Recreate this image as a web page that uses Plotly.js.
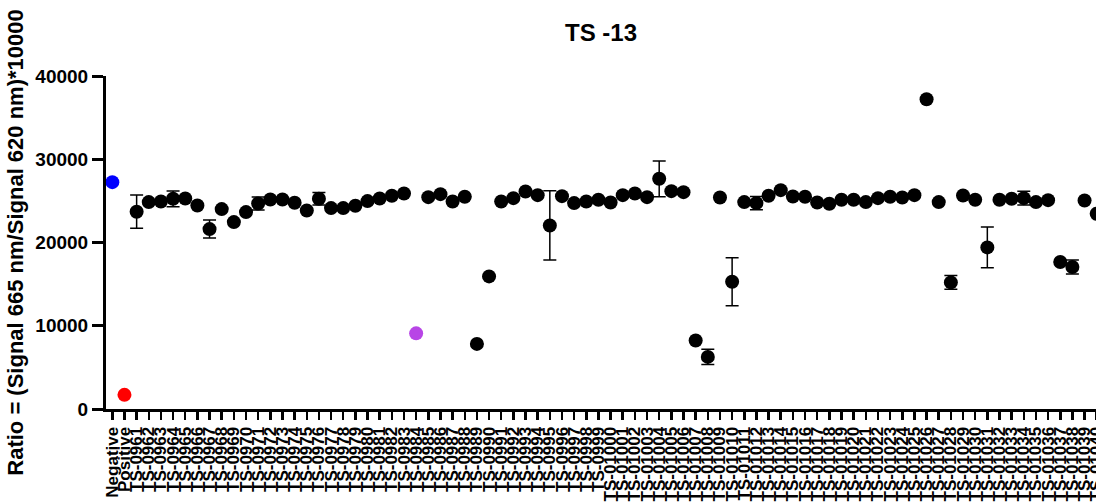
<!DOCTYPE html>
<html>
<head>
<meta charset="utf-8">
<script src="https://cdn.plot.ly/plotly-3.0.1.min.js"></script>
<style>
html,body{margin:0;padding:0;background:#fff;overflow:hidden;width:1096px;height:504px;}
#chart{width:1104px;height:504px;}
</style>
</head>
<body>
<div id="chart"></div>
<script>
// Category order (x axis)
const categories = ["Negative","Positive",
"TS-0961","TS-0962","TS-0963","TS-0964","TS-0965","TS-0966","TS-0967","TS-0968","TS-0969","TS-0970",
"TS-0971","TS-0972","TS-0973","TS-0974","TS-0975","TS-0976","TS-0977","TS-0978","TS-0979","TS-0980",
"TS-0981","TS-0982","TS-0983","TS-0984","TS-0985","TS-0986","TS-0987","TS-0988","TS-0989","TS-0990",
"TS-0991","TS-0992","TS-0993","TS-0994","TS-0995","TS-0996","TS-0997","TS-0998","TS-0999","TS-01000",
"TS-01001","TS-01002","TS-01003","TS-01004","TS-01005","TS-01006","TS-01007","TS-01008","TS-01009","TS-01010",
"TS-01011","TS-01012","TS-01013","TS-01014","TS-01015","TS-01016","TS-01017","TS-01018","TS-01019","TS-01020",
"TS-01021","TS-01022","TS-01023","TS-01024","TS-01025","TS-01026","TS-01027","TS-01028","TS-01029","TS-01030",
"TS-01031","TS-01032","TS-01033","TS-01034","TS-01035","TS-01036","TS-01037","TS-01038","TS-01039","TS-01040"];

// Control points
const negativeValue = 27250;
const positiveValue = 1700;
const purpleCategory = "TS-0984";
const purpleValue = 9090;

// Test compounds (TS-0961 ... TS-01040), TS-0984 shown in purple separately
const sampleNames = categories.slice(2);
const sampleValues = [
23700,24850,24920,25250,25280,24440,21610,24010,22450,23650,
24680,25160,25160,24770,23840,25250,24130,24130,24410,24970,
25280,25610,25880,null,25450,25810,24920,25490,7820,15930,
24920,25330,26120,25690,22050,25570,24730,24920,25130,24800,
25690,25880,25450,27650,26170,26050,8220,6260,25400,15290,
24850,24730,25610,26290,25520,25490,24800,24650,25130,25130,
24850,25330,25490,25400,25690,37200,24850,15210,25640,25130,
19410,25130,25250,25330,24850,25090,17660,17060,25040,23450];
const sampleErrors = [
2000,0,0,950,0,0,1080,0,0,0,
780,0,0,0,0,760,0,0,0,0,
0,0,0,0,0,0,0,0,0,0,
0,0,0,0,4160,0,0,0,0,0,
0,0,0,2140,0,0,0,920,0,2880,
0,800,0,0,0,0,0,0,0,0,
0,0,0,0,0,0,0,820,0,0,
2440,0,0,820,0,0,0,840,0,0];

const yTicks = [0,10000,20000,30000,40000];
const yTickText = ["0","10000","20000","30000","40000"];

const FONT = "Liberation Sans, Arial, sans-serif";
const mk = 14;

const traces = [
  {type:"scatter", mode:"markers", x:sampleNames, y:sampleValues, cliponaxis:false,
   marker:{color:"#000000", size:mk},
   error_y:{type:"data", array:sampleErrors, visible:true, color:"#000000", thickness:1.5, width:6.5},
   hoverinfo:"x+y"},
  {type:"scatter", mode:"markers", x:["Negative"], y:[negativeValue], cliponaxis:false,
   marker:{color:"#0000ff", size:mk}},
  {type:"scatter", mode:"markers", x:["Positive"], y:[positiveValue], cliponaxis:false,
   marker:{color:"#ff0000", size:mk}},
  {type:"scatter", mode:"markers", x:[purpleCategory], y:[purpleValue], cliponaxis:false,
   marker:{color:"#b845e6", size:mk}}
];

const layout = {
  width:1104, height:504,
  margin:{l:106, r:0, t:76, b:95},
  paper_bgcolor:"#ffffff", plot_bgcolor:"#ffffff",
  showlegend:false,
  font:{family:FONT, color:"#000000"},
  title:{text:"<b>TS -13</b>", x:(601/1104), xref:"container", xanchor:"center",
         y:0.935, yref:"container", yanchor:"middle",
         font:{family:FONT, size:24, color:"#000000"}},
  xaxis:{type:"category", categoryorder:"array", categoryarray:categories,
         tickmode:"array", tickvals:categories, ticktext:categories,
         range:[-0.52, 81.6], showline:true, linewidth:3, linecolor:"#000000",
         ticks:"outside", ticklen:8, tickwidth:2.5, tickcolor:"#000000",
         tickangle:-90, tickfont:{family:FONT, size:17, color:"#000000", weight:"bold"},
         showgrid:false, zeroline:false, fixedrange:true},
  yaxis:{range:[0,40000], tickmode:"array", tickvals:yTicks, ticktext:yTickText,
         showline:true, linewidth:3, linecolor:"#000000",
         ticks:"outside", ticklen:11, tickwidth:3, tickcolor:"#000000",
         tickfont:{family:FONT, size:19, color:"#000000", weight:"bold"},
         showgrid:false, zeroline:false, fixedrange:true,
         title:{text:"<b>Ratio = (Signal 665 nm/Signal 620 nm)*10000</b>",
                font:{family:FONT, size:22, color:"#000000"}, standoff:6}}
};

Plotly.newPlot("chart", traces, layout, {displayModeBar:false, staticPlot:true});
</script>
</body>
</html>
